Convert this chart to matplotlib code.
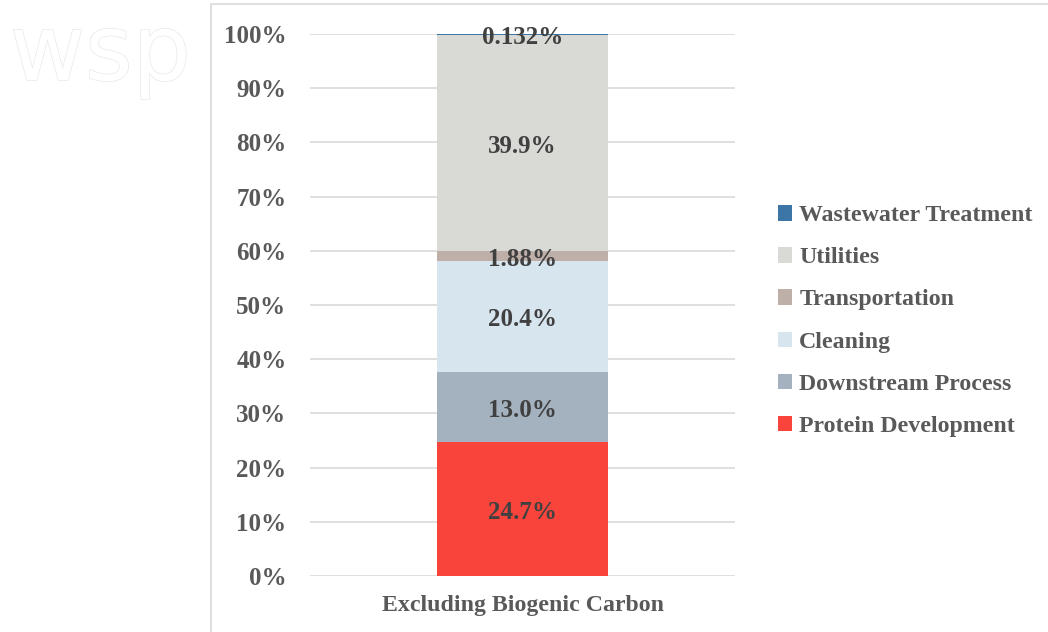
import matplotlib.pyplot as plt
import matplotlib.patheffects as pe
from matplotlib.patches import Rectangle
from matplotlib.ticker import MultipleLocator, FuncFormatter

plt.rcParams["font.family"] = ["Liberation Serif", "DejaVu Serif"]
plt.rcParams["font.weight"] = "bold"

category = "Excluding Biogenic Carbon"
# bottom to top of the stack
stages = ["Protein Development", "Downstream Process", "Cleaning",
          "Transportation", "Utilities", "Wastewater Treatment"]
shares = [24.7, 13.0, 20.4, 1.88, 39.9, 0.132]
labels = ["24.7%", "13.0%", "20.4%", "1.88%", "39.9%", "0.132%"]
colors = ["#F9443C", "#A4B2BF", "#D7E5EF", "#BEAFA8", "#D9D9D5", "#3B76A6"]

W, H = 1048, 632
fig = plt.figure(figsize=(W / 100, H / 100), dpi=100)

# faint watermark, hidden behind the chart frame on the right
fig.text(10 / W, 1 - 80 / H, "wsp", fontsize=66, color="white", weight="normal",
         family="DejaVu Sans", zorder=0,
         path_effects=[pe.withStroke(linewidth=1.0, foreground="#E8E8E8")])
fig.patches.append(Rectangle((211 / W, -0.1), 1.2, 1 - 4 / H + 0.1, transform=fig.transFigure,
                             facecolor="white", edgecolor="#D9D9D9", linewidth=1.2, zorder=1))

ax = fig.add_axes([310 / W, 1 - 576 / H, (735 - 310) / W, (576 - 34) / H], zorder=2)
ax.patch.set_alpha(0)

bottom = 0
for name, val, lab, c in zip(stages, shares, labels, colors):
    ax.bar(0, val, bottom=bottom, width=0.402, color=c, label=name, zorder=3)
    ax.text(0, bottom + val / 2 - 0.6, lab, ha="center", va="center", fontsize=18,
            color="#404040", weight="bold", zorder=4)
    bottom += val

ax.set_xlim(-0.5, 0.5)
ax.set_ylim(0, 100)
ax.yaxis.set_major_locator(MultipleLocator(10))
ax.yaxis.set_major_formatter(FuncFormatter(lambda v, p: f"{v:.0f}%"))
ax.set_xticks([0])
ax.set_xticklabels([category])
ax.tick_params(axis="y", length=0, labelsize=18, labelcolor="#595959", pad=17)
ax.tick_params(axis="x", length=0, labelsize=17.2, labelcolor="#595959", pad=14)
for lbl in ax.get_xticklabels() + ax.get_yticklabels():
    lbl.set_fontweight("bold")
ax.grid(axis="y", color="#D9D9D9", linewidth=1.2, zorder=0)
for s in ax.spines.values():
    s.set_visible(False)

h, l = ax.get_legend_handles_labels()
leg = fig.legend(h[::-1], l[::-1], loc="center left", bbox_to_anchor=(761 / W, 1 - 321 / H),
                 frameon=False, handlelength=0.6, handleheight=0.6, handletextpad=0.3,
                 borderpad=0.2, labelspacing=0.88, prop={"size": 17.2, "weight": "bold"},
                 labelcolor="#595959")

fig.savefig("out.png", dpi=100)
